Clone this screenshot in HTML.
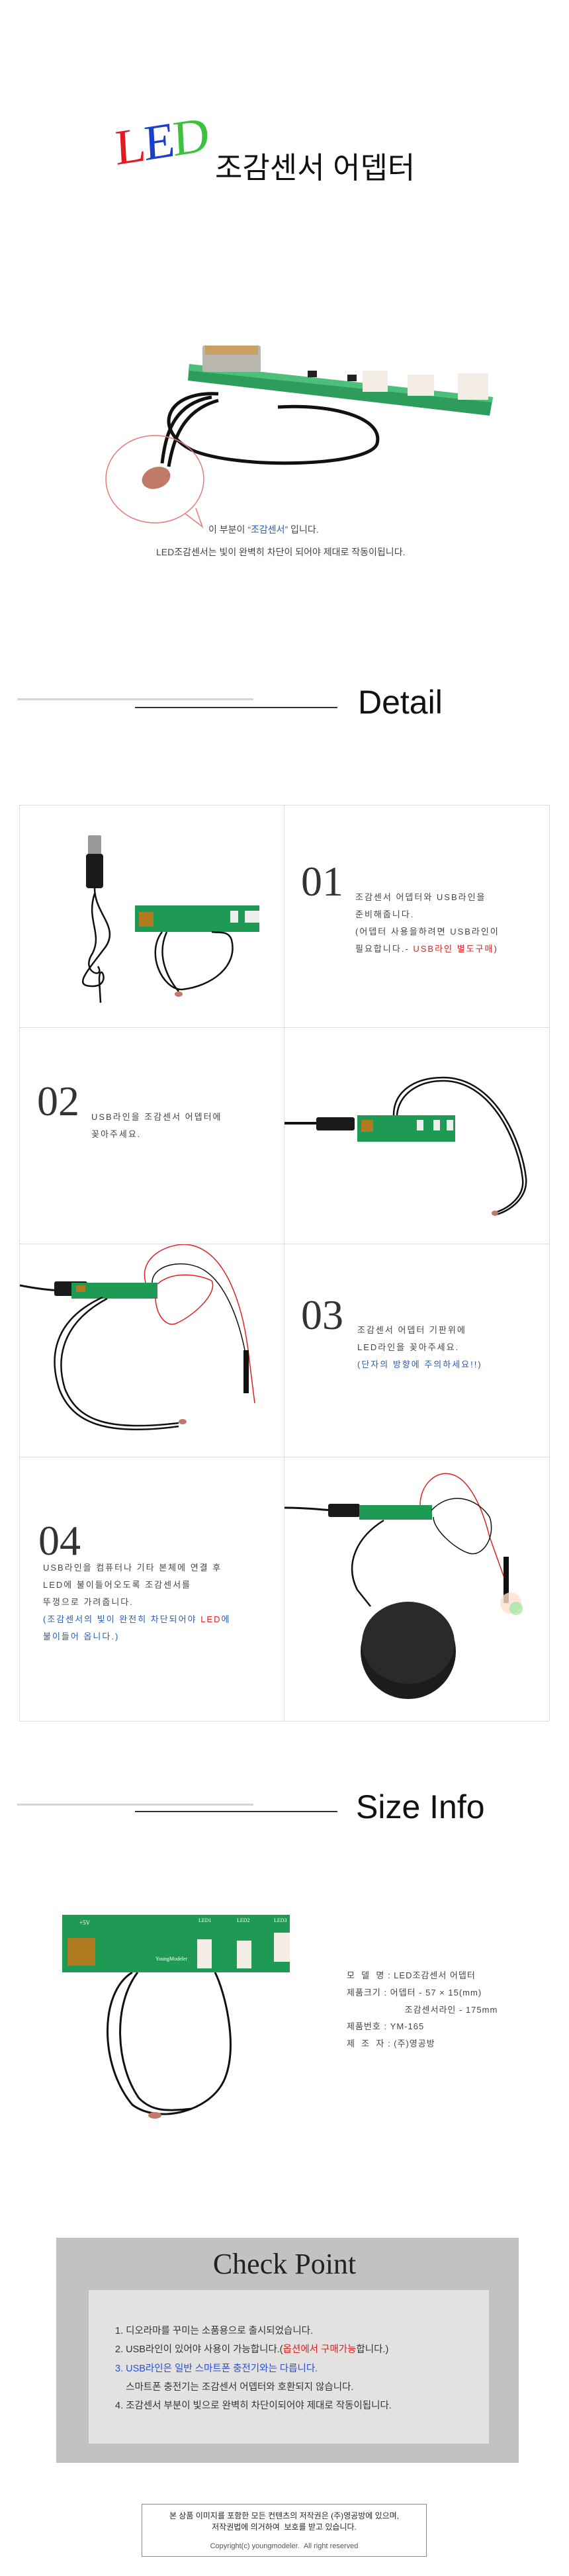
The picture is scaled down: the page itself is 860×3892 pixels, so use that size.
<!DOCTYPE html>
<html><head><meta charset="utf-8"><style>
*{margin:0;padding:0;box-sizing:border-box}
body{width:860px;height:3892px;background:#fff;position:relative;overflow:hidden;font-family:"Liberation Sans","Noto Sans CJK KR",sans-serif;color:#333}
.a{position:absolute;white-space:nowrap}
.kr{font-family:"Liberation Sans","Noto Sans CJK KR",sans-serif}
.num{font-family:"Liberation Serif",serif;font-size:64px;color:#333;line-height:1}
.t{font-size:13px;letter-spacing:2px;color:#444;line-height:26px}
.hl{position:absolute;height:3px;background:#dcd3d1}
.hd{position:absolute;height:2px;background:#333}
.vl{position:absolute;width:1px;background:#ddd}
.hz{position:absolute;height:1px;background:#ddd}
</style></head><body>

<!-- LED title -->
<div class="a" style="left:176px;top:186px;font-family:'Liberation Serif',serif;font-size:76px;line-height:1;transform:skewX(-6deg) rotate(-9deg);transform-origin:left bottom;letter-spacing:-3px">
<span style="color:#e11b22">L</span><span style="color:#1a3fc8">E</span><span style="color:#3cc23c">D</span></div>
<div class="a kr" style="left:325px;top:226px;font-size:45px;color:#111;line-height:56px">조감센서 어뎁터</div>

<!-- top product -->
<svg class="a" style="left:0;top:500px" width="860" height="320">
 <path d="M330 95 C 250 90 230 150 290 180 C 360 210 560 205 570 170 C 580 130 500 110 420 115" fill="none" stroke="#111" stroke-width="5"/>
 <path d="M320 100 C 260 110 250 160 245 200" fill="none" stroke="#111" stroke-width="5"/>
 <path d="M330 105 C 275 120 262 165 255 205" fill="none" stroke="#111" stroke-width="5"/>
 <polygon points="286,50 745,100 740,128 284,75" fill="#2e9c5a"/>
 <polygon points="286,50 745,100 744,108 286,60" fill="#4cc07a"/>
 <rect x="306" y="22" width="88" height="40" fill="#b8b6ae" rx="3"/>
 <rect x="310" y="22" width="80" height="14" fill="#c8a060"/>
 <rect x="548" y="60" width="38" height="32" fill="#f3ede6"/>
 <rect x="616" y="66" width="40" height="32" fill="#f3ede6"/>
 <rect x="692" y="64" width="46" height="40" fill="#f3ede6"/>
 <rect x="465" y="60" width="14" height="10" fill="#222"/><rect x="525" y="66" width="14" height="10" fill="#222"/>
 <ellipse cx="234" cy="224" rx="74" ry="66" fill="none" stroke="#e57b78" stroke-width="1.5"/>
 <path d="M280 276 L306 296 L296 268" fill="#fff" stroke="#e57b78" stroke-width="1.5"/>
 <ellipse cx="236" cy="222" rx="22" ry="16" fill="#c07a6a" transform="rotate(-20 236 222)"/>
</svg>
<div class="a kr" style="left:315px;top:790px;font-size:14px;color:#444">이 부분이 <span style="color:#2a5db0">“조감센서”</span> 입니다.</div>
<div class="a kr" style="left:236px;top:824px;font-size:14px;color:#444">LED조감센서는 빛이 완벽히 차단이 되어야 제대로 작동이됩니다.</div>

<!-- Detail header -->
<div class="hl" style="left:26px;top:1055px;width:357px"></div>
<div class="hd" style="left:204px;top:1068px;width:306px"></div>
<div class="a" style="left:541px;top:1033px;font-size:50px;color:#111;line-height:56px">Detail</div>

<!-- grid -->
<div class="hz" style="left:29px;top:1216px;width:801px"></div>
<div class="hz" style="left:29px;top:1552px;width:801px"></div>
<div class="hz" style="left:29px;top:1879px;width:801px"></div>
<div class="hz" style="left:29px;top:2201px;width:801px"></div>
<div class="hz" style="left:29px;top:2600px;width:801px"></div>
<div class="vl" style="left:29px;top:1216px;height:1384px"></div>
<div class="vl" style="left:429px;top:1216px;height:1384px"></div>
<div class="vl" style="left:830px;top:1216px;height:1384px"></div>

<!-- row1 left image -->
<svg class="a" style="left:30px;top:1240px" width="398" height="300">
 <rect x="103" y="22" width="20" height="32" fill="#999" rx="2"/>
 <rect x="100" y="50" width="26" height="52" fill="#1a1a1a" rx="4"/>
 <path d="M113 102 C 113 140 150 160 130 190 C 100 230 80 250 110 250 C 140 250 120 210 120 240 L 122 275" fill="none" stroke="#111" stroke-width="2.5"/>
 <path d="M113 110 C 100 150 125 170 110 200 C 90 230 130 240 118 220" fill="none" stroke="#111" stroke-width="2.5"/>
 <rect x="174" y="128" width="188" height="40" fill="#1f9a55"/>
 <rect x="180" y="138" width="22" height="22" fill="#b07a20"/>
 <rect x="318" y="136" width="12" height="18" fill="#eee"/><rect x="340" y="136" width="12" height="18" fill="#eee"/><rect x="352" y="136" width="10" height="18" fill="#eee"/>
 <path d="M215 168 C 190 200 215 255 245 255 C 290 250 330 220 320 180 C 315 165 300 170 290 168" fill="none" stroke="#111" stroke-width="2.5"/>
 <path d="M222 168 C 205 205 225 240 240 258" fill="none" stroke="#111" stroke-width="2.5"/>
 <ellipse cx="240" cy="262" rx="6" ry="4" fill="#c07a6a"/>
</svg>
<div class="a num" style="left:455px;top:1300px">01</div>
<div class="a t" style="left:537px;top:1343px">조감센서 어뎁터와 USB라인을<br>준비해줍니다.<br>(어뎁터 사용을하려면 USB라인이<br>필요합니다.<span style="color:#e02020">- USB라인 별도구매</span>)</div>

<!-- row2 -->
<div class="a num" style="left:56px;top:1632px">02</div>
<div class="a t" style="left:138px;top:1675px">USB라인을 조감센서 어뎁터에<br>꽂아주세요.</div>
<svg class="a" style="left:430px;top:1560px" width="399" height="315">
 <path d="M0 137 L 60 137" stroke="#111" stroke-width="4"/>
 <rect x="48" y="128" width="58" height="20" fill="#1a1a1a" rx="3"/>
 <rect x="110" y="125" width="148" height="40" fill="#1f9a55"/>
 <rect x="116" y="132" width="18" height="18" fill="#b07a20"/>
 <rect x="200" y="132" width="10" height="16" fill="#eee"/><rect x="225" y="132" width="10" height="16" fill="#eee"/><rect x="245" y="132" width="10" height="16" fill="#eee"/>
 <path d="M165 125 C 165 90 195 68 240 68 C 320 68 360 170 365 220 C 368 250 340 270 320 275" fill="none" stroke="#111" stroke-width="2.5"/>
 <path d="M170 125 C 172 95 200 73 240 73 C 315 73 355 170 360 222 C 363 248 338 266 318 272" fill="none" stroke="#111" stroke-width="2.5"/>
 <ellipse cx="318" cy="273" rx="5" ry="4" fill="#c07a6a"/>
</svg>

<!-- row3 -->
<svg class="a" style="left:30px;top:1880px" width="398" height="320">
 <path d="M0 62 C 30 68 50 70 70 70" stroke="#111" stroke-width="3" fill="none"/>
 <rect x="52" y="56" width="50" height="22" fill="#1a1a1a" rx="3"/>
 <rect x="78" y="58" width="130" height="24" fill="#1f9a55"/>
 <rect x="85" y="62" width="14" height="10" fill="#b07a20"/>
 <path d="M190 58 C 180 20 220 0 250 0 C 320 5 340 120 345 160 L 355 240" fill="none" stroke="#e02020" stroke-width="1.5"/>
 <path d="M200 58 C 200 30 250 20 280 40 C 310 60 330 110 340 160" fill="none" stroke="#111" stroke-width="1.5"/>
 <path d="M208 60 C 230 40 270 45 290 55 C 300 75 260 110 235 120 C 220 125 205 105 205 80" fill="none" stroke="#e02020" stroke-width="1.5"/>
 <rect x="338" y="160" width="8" height="65" fill="#111"/>
 <path d="M125 80 C 60 110 40 160 60 220 C 80 270 130 290 240 275" fill="none" stroke="#111" stroke-width="2.5"/>
 <path d="M132 82 C 70 115 52 165 68 218 C 88 268 135 282 240 270" fill="none" stroke="#111" stroke-width="2.5"/>
 <ellipse cx="246" cy="268" rx="6" ry="4" fill="#c07a6a"/>
</svg>
<div class="a num" style="left:455px;top:1955px">03</div>
<div class="a t" style="left:540px;top:1997px">조감센서 어뎁터 기판위에<br>LED라인을 꽂아주세요.<br><span style="color:#2a5db0">(단자의 방향에 주의하세요!!)</span></div>

<!-- row4 -->
<div class="a num" style="left:58px;top:2296px">04</div>
<div class="a t" style="left:65px;top:2356px">USB라인을 컴퓨터나 기타 본체에 연결 후<br>LED에 불이들어오도록 조감센서를<br>뚜껑으로 가려줍니다.<br><span style="color:#2a5db0">(조감센서의 빛이 완전히 차단되어야 <span style="color:#e02020">LED</span>에<br>불이들어 옵니다.)</span></div>
<svg class="a" style="left:430px;top:2202px" width="399" height="397">
 <path d="M0 76 C 40 76 60 80 80 80" stroke="#111" stroke-width="3" fill="none"/>
 <rect x="66" y="70" width="48" height="20" fill="#1a1a1a" rx="3"/>
 <rect x="113" y="72" width="110" height="22" fill="#1f9a55"/>
 <path d="M205 72 C 205 40 230 20 250 25 C 280 30 300 80 310 120 L 335 190" fill="none" stroke="#e02020" stroke-width="1.5"/>
 <path d="M222 80 C 250 50 290 60 310 90 C 320 120 300 150 280 145 C 260 140 225 110 225 90" fill="none" stroke="#111" stroke-width="1.5"/>
 <rect x="331" y="150" width="8" height="70" fill="#111"/>
 <circle cx="342" cy="220" r="16" fill="#ffe0d0" opacity="0.8"/>
 <circle cx="350" cy="228" r="10" fill="#9ae6a0" opacity="0.7"/>
 <path d="M150 95 C 110 120 90 160 110 200 L 130 225" fill="none" stroke="#111" stroke-width="2.5"/>
 <ellipse cx="187" cy="293" rx="72" ry="72" fill="#1c1c1c"/>
 <ellipse cx="187" cy="280" rx="70" ry="62" fill="#2a2a2a"/>
</svg>

<!-- Size Info header -->
<div class="hl" style="left:26px;top:2725px;width:357px"></div>
<div class="hd" style="left:204px;top:2736px;width:306px"></div>
<div class="a" style="left:538px;top:2702px;font-size:50px;color:#111;line-height:56px">Size Info</div>

<svg class="a" style="left:90px;top:2890px" width="360" height="330">
 <path d="M110 90 C 60 120 60 230 110 290 C 150 320 230 300 250 250 C 270 200 250 120 235 90" fill="none" stroke="#111" stroke-width="3"/>
 <path d="M118 90 C 80 140 85 230 120 280 C 140 300 160 300 200 296" fill="none" stroke="#111" stroke-width="3"/>
 <rect x="4" y="3" width="344" height="87" fill="#1f9a55"/>
 <rect x="12" y="38" width="42" height="42" fill="#b07a20"/>
 <rect x="208" y="40" width="22" height="44" fill="#f3ede6"/>
 <rect x="268" y="42" width="22" height="42" fill="#f3ede6"/>
 <rect x="324" y="30" width="24" height="44" fill="#f3ede6"/>
 <text x="30" y="18" font-size="9" fill="#fff" font-family="Liberation Serif">+5V</text>
 <text x="210" y="14" font-size="8" fill="#fff" font-family="Liberation Serif">LED1</text>
 <text x="268" y="14" font-size="8" fill="#fff" font-family="Liberation Serif">LED2</text>
 <text x="324" y="14" font-size="8" fill="#fff" font-family="Liberation Serif">LED3</text>
 <text x="145" y="72" font-size="8" fill="#fff" font-family="Liberation Serif">YoungModeler</text>
 <ellipse cx="144" cy="306" rx="10" ry="5" fill="#c07a6a"/>
</svg>
<div class="a kr" style="left:524px;top:2972px;font-size:13px;color:#444;line-height:25.8px;letter-spacing:1px">모 &nbsp;델 &nbsp;명 : LED조감센서 어뎁터<br>제품크기 : 어뎁터 - 57 × 15(mm)<br>&nbsp;&nbsp;&nbsp;&nbsp;&nbsp;&nbsp;&nbsp;&nbsp;&nbsp;&nbsp;&nbsp;&nbsp;&nbsp;&nbsp;&nbsp;&nbsp;&nbsp;&nbsp;&nbsp;조감센서라인 - 175mm<br>제품번호 : YM-165<br>제 &nbsp;조 &nbsp;자 : (주)영공방</div>

<!-- Check Point -->
<div class="a" style="left:85px;top:3381px;width:699px;height:340px;background:#c3c2c0"></div>
<div class="a" style="left:134px;top:3460px;width:605px;height:232px;background:#e3e2e1"></div>
<div class="a" style="left:0;top:3396px;width:860px;text-align:center;font-family:'Liberation Serif',serif;font-size:44px;color:#222;line-height:50px">Check Point</div>
<div class="a kr" style="left:174px;top:3508px;font-size:14.5px;color:#333;line-height:28.3px">1. 디오라마를 꾸미는 소품용으로 출시되었습니다.<br>2. USB라인이 있어야 사용이 가능합니다.(<span style="color:#e02020">옵션에서 구매가능</span>합니다.)<br><span style="color:#2a4fd0">3. USB라인은 일반 스마트폰 충전기와는 다릅니다.</span><br>&nbsp;&nbsp;&nbsp;&nbsp;스마트폰 충전기는 조감센서 어뎁터와 호환되지 않습니다.<br>4. 조감센서 부분이 빛으로 완벽히 차단이되어야 제대로 작동이됩니다.</div>

<!-- copyright -->
<div class="a" style="left:214px;top:3783px;width:431px;height:80px;border:1px solid #888"></div>
<div class="a kr" style="left:214px;top:3793px;width:431px;text-align:center;font-size:12px;color:#222;line-height:17px">본 상품 이미지를 포함한 모든 컨텐츠의 저작권은 (주)영공방에 있으며,<br>저작권법에 의거하여 &nbsp;보호를 받고 있습니다.</div>
<div class="a" style="left:214px;top:3841px;width:431px;text-align:center;font-size:11px;color:#555">Copyright(c) youngmodeler. &nbsp;All right reserved</div>

</body></html>
